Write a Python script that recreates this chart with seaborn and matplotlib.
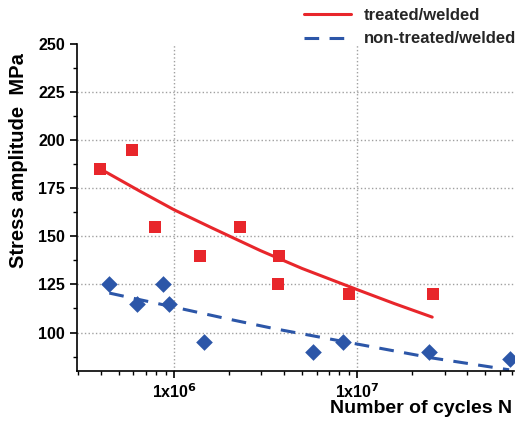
import numpy as np
import pandas as pd
import matplotlib
matplotlib.use("Agg")
import matplotlib.pyplot as plt
import matplotlib.ticker as mticker
import seaborn as sns

sns.set_theme(style="white")
plt.rcParams['font.family'] = ['Liberation Sans', 'DejaVu Sans']
plt.rcParams['font.weight'] = 'bold'

# treated/welded (red squares)
treated_N = [3.94e5, 5.9e5, 7.9e5, 1.39e6, 2.3e6, 3.75e6, 3.7e6, 9.0e6, 2.6e7]
treated_S = [185, 195, 155, 140, 155, 140, 125, 120, 120]
# non-treated/welded (blue diamonds)
untreated_N = [4.43e5, 6.25e5, 8.74e5, 9.4e5, 1.46e6, 5.77e6, 8.35e6, 2.48e7, 6.8e7]
untreated_S = [125, 115, 125, 115, 95, 90, 95, 90, 86]

# fitted curves
treated_fit_N = [4.05e5, 6.5e5, 1.0e6, 1.6e6, 2.96e6, 5.0e6, 1.0e7, 1.6e7, 2.57e7]
treated_fit_S = [184.5, 173.5, 163.8, 154.5, 142.6, 133.3, 122.3, 115.0, 108.0]
untreated_fit_N = [4.43e5, 1.0e6, 2.0e6, 3.57e6, 1.0e7, 2.59e7, 6.76e7]
untreated_fit_S = [120.5, 113.2, 106.9, 101.9, 94.0, 86.7, 80.6]

red = '#e8262b'
blue = '#2c56a8'

df_t = pd.DataFrame({'N': treated_N, 'S': treated_S})
df_u = pd.DataFrame({'N': untreated_N, 'S': untreated_S})
fit_t = pd.DataFrame({'N': treated_fit_N, 'S': treated_fit_S})
fit_u = pd.DataFrame({'N': untreated_fit_N, 'S': untreated_fit_S})

fig = plt.figure(figsize=(5.26, 4.23), dpi=100)
ax = fig.add_axes([0.1464, 0.123, 0.831, 0.773])
ax.set_xscale('log')

sns.lineplot(data=fit_t, x='N', y='S', ax=ax, color=red, lw=2.2, label='treated/welded')
sns.lineplot(data=fit_u, x='N', y='S', ax=ax, color=blue, lw=2.2, label='non-treated/welded')
ax.lines[1].set_dashes([4.8, 3.4])
sns.scatterplot(data=df_t, x='N', y='S', ax=ax, marker='s', s=65, color=red, edgecolor=red, linewidth=0, zorder=5, legend=False)
sns.scatterplot(data=df_u, x='N', y='S', ax=ax, marker='D', s=72, color=blue, edgecolor=blue, linewidth=0, zorder=5, legend=False)

ax.set_xlim(2.95e5, 7.2e7)
ax.set_ylim(80, 250)
ax.set_yticks([100, 125, 150, 175, 200, 225, 250])
ax.yaxis.set_minor_locator(mticker.MultipleLocator(12.5))
ax.set_xticks([1e6, 1e7])
ax.xaxis.set_minor_locator(mticker.LogLocator(base=10, subs=np.arange(2, 10)))
ax.xaxis.set_minor_formatter(mticker.NullFormatter())
ax.set_xticklabels([r'1x10$^{\mathbf{6}}$', r'1x10$^{\mathbf{7}}$'])

for sp in ['top', 'right']:
    ax.spines[sp].set_visible(False)
for sp in ['left', 'bottom']:
    ax.spines[sp].set_color('black')
    ax.spines[sp].set_linewidth(1.2)

ax.tick_params(axis='both', which='major', direction='out', length=5, width=1.2, color='black',
               labelsize=11.5, labelcolor='black', left=True, bottom=True)
ax.tick_params(axis='both', which='minor', direction='out', length=3, width=1.0, color='black',
               left=True, bottom=True)
for lab in ax.get_xticklabels() + ax.get_yticklabels():
    lab.set_fontweight('bold')

ax.grid(True, which='major', linestyle=':', color='#a0a0a0', linewidth=1.0)
ax.set_axisbelow(True)
ygl = ax.yaxis.get_gridlines()
ygl[-1].set_visible(False)

ax.set_ylabel('Stress amplitude  MPa', fontsize=14.5, fontweight='bold', color='black')
ax.yaxis.set_label_coords(-0.112, 0.645)
ax.set_xlabel('Number of cycles N', fontsize=14, fontweight='bold', color='black')
ax.xaxis.set_label_coords(0.995, -0.09)
ax.xaxis.label.set_horizontalalignment('right')

leg = ax.legend(loc='lower right', bbox_to_anchor=(1.02, 0.972), frameon=False,
                fontsize=12, handlelength=2.8, handletextpad=0.8, labelspacing=0.5, borderaxespad=0)
for t in leg.get_texts():
    t.set_fontweight('bold')

fig.savefig('out.png', dpi=100)
